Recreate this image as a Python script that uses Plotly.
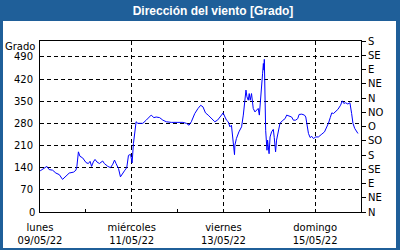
import pandas as pd
import plotly.graph_objects as go

# hours since 2022-05-09 00:00 and wind direction (degrees)
hours = [0.1, 2.2, 3.6, 4.8, 6.6, 8.3, 10.1, 11.8, 13.6, 15.3, 17.6, 18.8, 19.3, 20.1, 20.9, 22.3,
         24.1, 25.3, 26.2, 27.0, 27.9, 28.8, 29.8, 31.1, 32.8, 33.7, 35.5, 36.9, 38.1, 39.0, 39.8,
         41.1, 42.1, 42.8, 44.2, 45.4, 46.3, 47.4, 48.2, 48.9, 49.8, 50.3, 51.2, 52.6, 53.8, 55.6,
         57.4, 58.2, 59.6, 60.8, 62.6, 64.3, 66.1, 68.7, 72.2, 74.8, 76.6, 78.0, 79.2, 81.0, 82.7,
         84.1, 85.3, 86.6, 88.0, 89.7, 91.5, 92.9, 94.1, 95.0, 95.8, 96.7, 97.6, 98.5, 99.4, 100.2,
         101.1, 101.8, 102.0, 102.8, 104.1, 105.5, 106.4, 107.2, 107.8, 108.3, 109.0, 109.5, 110.0,
         110.7, 111.6, 112.5, 113.3, 114.2, 114.8, 115.4, 116.0, 116.5, 116.9, 117.2, 117.4, 118.1,
         118.8, 119.1, 119.9, 120.4, 121.2, 122.1, 122.6, 123.3, 123.8, 124.7, 125.6, 126.8, 128.3,
         129.1, 130.4, 131.7, 132.6, 133.8, 134.9, 135.6, 137.0, 138.4, 139.1, 140.0, 140.5, 141.4,
         142.2, 143.1, 144.3, 145.7, 146.6, 147.5, 148.9, 150.1, 151.0, 151.9, 152.7, 153.6, 154.8,
         155.9, 157.3, 158.2, 159.0, 159.9, 161.1, 162.2, 163.1, 163.8, 164.7, 165.7, 166.4]
direction = [130, 137, 144, 134, 132, 123, 118, 103, 113, 123, 126, 132, 144, 190, 176, 171,
             156, 153, 160, 144, 158, 166, 158, 153, 161, 153, 144, 140, 151, 164, 153,
             137, 111, 119, 130, 140, 179, 182, 155, 216, 253, 285, 280, 281, 280, 290,
             300, 306, 298, 300, 298, 290, 285, 283, 283, 283, 280, 274, 285, 311, 327,
             337, 332, 313, 306, 295, 285, 290, 298, 306, 313, 300, 290, 285, 269, 274,
             232, 181, 211, 232, 253, 269, 306, 343, 385, 364, 353, 374, 353,
             374, 327, 316, 322, 327, 306, 364, 422, 438, 469, 448, 482, 258,
             195, 227, 184, 237, 253, 261, 235, 190, 227, 253, 280, 288, 295,
             306, 303, 300, 290, 290, 295, 308, 309, 306, 300, 269, 248, 235,
             239, 232, 237, 237, 243, 246, 253, 267, 281, 298, 313, 311, 319,
             324, 337, 351, 343, 345, 341, 345, 311, 280, 264, 253, 248]

start = "2022-05-09"
end = "2022-05-16"
x_tick_dates = ["2022-05-09", "2022-05-11", "2022-05-13", "2022-05-15"]
x_tick_text = ["lunes<br>09/05/22", "miércoles<br>11/05/22", "viernes<br>13/05/22", "domingo<br>15/05/22"]
x_minor_dates = ["2022-05-10", "2022-05-12", "2022-05-14"]
y_ticks = [0, 70, 140, 210, 280, 350, 420, 490]
y2_ticks = [0, 45, 90, 135, 180, 225, 270, 315, 360, 405, 450, 495, 540]
y2_text = ["N", "NE", "E", "SE", "S", "SO", "O", "NO", "N", "NE", "E", "SE", "S"]
y_max = 540

times = pd.Timestamp(start) + pd.to_timedelta(hours, unit="h")

BLUE = "#1f5f99"
FONT = "DejaVu Sans"

fig = go.Figure()
fig.add_trace(go.Scatter(x=times, y=direction, mode="lines",
                         line=dict(color="#0000ff", width=1), showlegend=False))
# invisible trace on y2 to make the right axis show
fig.add_trace(go.Scatter(x=[times[0]], y=[direction[0]], yaxis="y2", mode="lines",
                         line=dict(width=0), showlegend=False, hoverinfo="skip"))

L, R, T, B = 40, 39, 41, 38
W, H = 400, 250
pw, ph = W - L - R, H - T - B

def px2x(px):
    return (px - L) / pw

def py2y(py):
    return (H - B - py) / ph

fig.add_shape(type="rect", xref="paper", yref="paper",
              x0=px2x(3), x1=px2x(396), y0=py2y(248), y1=py2y(21),
              fillcolor="white", line=dict(width=0), layer="below")

fig.update_layout(
    width=W, height=H,
    margin=dict(l=L, r=R, t=T, b=B, pad=0, autoexpand=False),
    paper_bgcolor=BLUE, plot_bgcolor="white",
    font=dict(family=FONT, size=10, color="black"),
    title=dict(text="<b>Dirección del viento [Grado]</b>",
               font=dict(family="Liberation Sans", size=12, color="white"),
               x=213 / W, xanchor="center", xref="container",
               y=1 - 10.5 / H, yanchor="middle", yref="container"),
    xaxis=dict(type="date", range=[start, end], automargin=False,
               tickvals=x_tick_dates, ticktext=x_tick_text,
               ticks="inside", ticklen=3, tickcolor="black",
               ticklabelstandoff=6,
               showgrid=True, gridcolor="black", griddash="4px,3px", gridwidth=1,
               showline=True, linecolor="black", linewidth=1, mirror=True,
               zeroline=False, tickangle=0,
               minor=dict(tickvals=x_minor_dates, ticks="inside", ticklen=3,
                          tickcolor="black", showgrid=False),
               tickfont=dict(family=FONT, size=10, color="black")),
    yaxis=dict(range=[0, y_max], tickvals=y_ticks[1:], automargin=False,
               ticks="outside", ticklen=4, tickcolor="rgba(0,0,0,0)",
               showgrid=True, gridcolor="black", griddash="4px,3px", gridwidth=1,
               showline=True, linecolor="black", linewidth=1, mirror=True,
               zeroline=False, tickfont=dict(family=FONT, size=10, color="black")),
    yaxis2=dict(range=[0, y_max], overlaying="y", side="right", automargin=False,
                tickvals=y2_ticks, ticktext=y2_text,
                ticks="outside", ticklen=4, tickcolor="black",
                showgrid=False, zeroline=False, showline=False,
                tickfont=dict(family=FONT, size=10, color="black")),
)

fig.add_annotation(text="Grado", xref="paper", yref="paper",
                   x=px2x(37), y=py2y(46.5), xanchor="right", yanchor="middle",
                   showarrow=False, font=dict(family=FONT, size=10, color="black"))
# label for the 0 tick at the axis corner
fig.add_annotation(text=str(y_ticks[0]), xref="paper", yref="y",
                   x=px2x(37), y=y_ticks[0], xanchor="right", yanchor="middle",
                   showarrow=False, font=dict(family=FONT, size=10, color="black"))

fig.write_html("out.html")
